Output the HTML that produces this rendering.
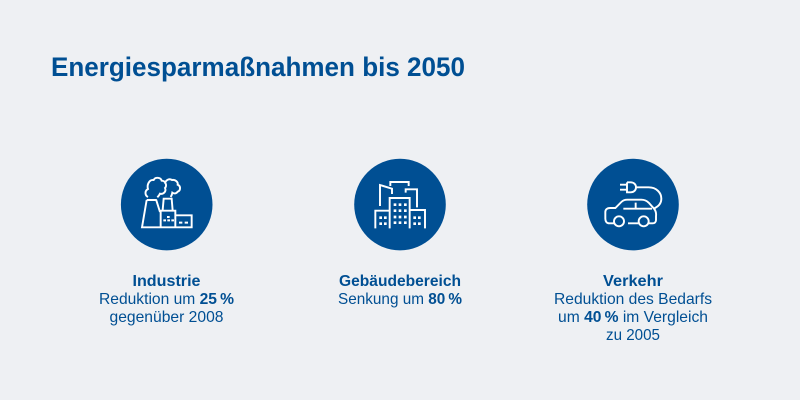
<!DOCTYPE html>
<html lang="de">
<head>
<meta charset="utf-8">
<title>Energiesparmaßnahmen bis 2050</title>
<style>
html,body{margin:0;padding:0;width:800px;height:400px;overflow:hidden;background:#eef0f3}
svg{display:block}
text{font-family:"Liberation Sans",sans-serif;fill:#004f93;text-anchor:middle}
.b{font-weight:700}
.l{font-size:16px}
.ic{fill:none;stroke:#fff;stroke-width:5.8;stroke-linejoin:miter;stroke-linecap:butt}
.dots{fill:#fff;stroke:none}
</style>
</head>
<body>
<svg width="800" height="400" viewBox="0 0 800 400">
<rect width="800" height="400" fill="#eef0f3"/>
<text id="title" x="51" y="76" class="b" style="font-size:26.5px;text-anchor:start" textLength="414" lengthAdjust="spacingAndGlyphs">Energiesparmaßnahmen bis 2050</text>

<g>
<circle cx="166.7" cy="204.6" r="45.8" fill="#004f93"/>
<g transform="translate(110 150) scale(.33333)">
<path class="ic" d="M110 150L96 232H245V196H196M138 148L150 186M110 150H138M152 232V182H196V232M158 180L161 146H185L188 182"/>
<path class="ic" d="M114 141C104 136 104 122 114 117C110 104 118 88 131 90C136 80 152 82 155 92C166 92 172 106 165 114C170 124 160 134 150 131C148 136 144 140 142 142M165 101C166 92 176 84 186 90C196 88 205 96 203 104C213 108 212 122 203 125C198 133 190 130 187 128C186 134 184 138 182 141"/>
<path class="dots" d="M171 198h8v6h-8zM160 208h8v6h-8zM172 208h8v6h-8zM184 208h8v6h-8zM207 215h10v6h-10zM224 215h10v6h-10z"/>
</g>
<text class="l b" x="166.5" y="286" textLength="68" lengthAdjust="spacingAndGlyphs">Industrie</text>
<text class="l" x="166.5" y="304" textLength="135" lengthAdjust="spacingAndGlyphs">Reduktion um <tspan class="b">25&#8201;%</tspan></text>
<text class="l" x="166.5" y="322" textLength="114" lengthAdjust="spacingAndGlyphs">gegenüber 2008</text>
</g>

<g>
<circle cx="400" cy="204.6" r="45.8" fill="#004f93"/>
<g transform="translate(345 150) scale(.33333)">
<path class="ic" d="M105 168V105L141 116V132M136 108V96H191V108M182 128V118H216V172M134 182H91V235M134 235V144H194V235M194 180H240V235"/>
<path class="dots" d="M146 160h8v8h-8zM161 160h8v8h-8zM177 160h8v8h-8zM146 178h8v8h-8zM161 178h8v8h-8zM177 178h8v8h-8zM146 197h8v8h-8zM161 197h8v8h-8zM177 197h8v8h-8zM146 214h8v8h-8zM161 214h8v8h-8zM177 214h8v8h-8zM103 199h8v8h-8zM117 199h8v8h-8zM103 217h8v8h-8zM117 217h8v8h-8zM205 199h8v8h-8zM219 199h8v8h-8zM205 217h8v8h-8zM219 217h8v8h-8z"/>
</g>
<text class="l b" x="400" y="286" textLength="122" lengthAdjust="spacingAndGlyphs">Gebäudebereich</text>
<text class="l" x="400" y="304" textLength="124" lengthAdjust="spacingAndGlyphs">Senkung um <tspan class="b">80&#8201;%</tspan></text>
</g>

<g>
<circle cx="633" cy="204.6" r="45.8" fill="#004f93"/>
<g transform="translate(578 150) scale(.33333)">
<path class="ic" d="M126 104H147M126 119H147M147 97V127H158C168 127 174 120 174 112C174 104 168 97 158 97H147M174 112H212C235 112 250 128 250 146C250 162 240 170 229 175"/>
<path class="ic" d="M109 220H94C86 220 82 214 82 206V186C82 178 88 174 96 174H112L130 156C135 151 141 149 148 149H190C200 149 206 152 212 158L228 176C233 182 235 190 234 198V210C234 216 230 220 224 220H213M181 220H150M136 176H222M173 158V176"/>
<circle class="ic" cx="123" cy="214" r="15"/>
<circle class="ic" cx="197" cy="214" r="15"/>
</g>
<text class="l b" x="633" y="286" textLength="60" lengthAdjust="spacingAndGlyphs">Verkehr</text>
<text class="l" x="633" y="304" textLength="158" lengthAdjust="spacingAndGlyphs">Reduktion des Bedarfs</text>
<text class="l" x="633" y="322" textLength="150" lengthAdjust="spacingAndGlyphs">um <tspan class="b">40&#8201;%</tspan> im Vergleich</text>
<text class="l" x="633" y="340" textLength="54" lengthAdjust="spacingAndGlyphs">zu 2005</text>
</g>
</svg>
</body>
</html>
